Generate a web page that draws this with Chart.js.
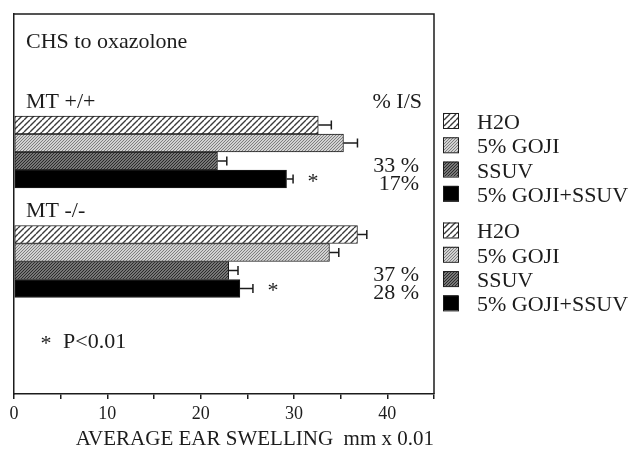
<!DOCTYPE html>
<html>
<head>
<meta charset="utf-8">
<title>CHS to oxazolone</title>
<script src="https://cdn.jsdelivr.net/npm/chart.js@4.4.1/dist/chart.umd.min.js"></script>
<style>
  html, body { margin: 0; padding: 0; background: #fff; }
  #wrap { width: 632px; height: 450px; }
</style>
</head>
<body>
<div id="wrap"><canvas id="chart" width="632" height="450"></canvas></div>
<script>
// Valori (umflarea urechii, mm x 0.01)
const groups = ['MT +/+', 'MT -/-'];
const treatments = ['H2O', '5% GOJI', 'SSUV', '5% GOJI+SSUV'];
const h2o = [32.6, 36.8];
const goji = [35.3, 33.8];
const ssuv = [21.8, 23.0];
const gojiSsuv = [29.2, 24.2];
const h2oErr = [1.4, 1.0];
const gojiErr = [1.5, 1.0];
const ssuvErr = [1.0, 1.0];
const gojiSsuvErr = [0.7, 1.4];
const starred = [false, false, false, true]; // * P<0.01
const inhibSsuv = ['33 %', '37 %'];   // % I/S pentru SSUV
const inhibCombo = ['17%', '28 %'];   // % I/S pentru 5% GOJI+SSUV
const xMax = 45;
const xStep = 5;
const xLabelEvery = 10;

const seriesValues = [h2o, goji, ssuv, gojiSsuv];
const seriesErrors = [h2oErr, gojiErr, ssuvErr, gojiSsuvErr];

const FONT = '"Liberation Serif", "DejaVu Serif", serif';
const INK = '#1c1c1c';

// Hasura diagonala (/) ca pattern pentru bare
function makeHatch(size, bg, fg, lw) {
  const c = document.createElement('canvas');
  c.width = size; c.height = size;
  const g = c.getContext('2d');
  g.fillStyle = bg;
  g.fillRect(0, 0, size, size);
  g.strokeStyle = fg;
  g.lineWidth = lw;
  g.beginPath();
  for (let k = -1; k <= 1; k++) {
    g.moveTo(k * size, size);
    g.lineTo(k * size + size, 0);
  }
  g.stroke();
  return g.createPattern(c, 'repeat');
}

const fills = [
  makeHatch(6, '#ffffff', '#3a3a3a', 1.4),
  makeHatch(3, '#d2d2d2', '#7e7e7e', 1),
  makeHatch(3, '#767676', '#2c2c2c', 1),
  '#000000'
];

// Rama completa a zonei de grafic (sus si dreapta)
const framePlugin = {
  id: 'frame',
  afterDraw(chart) {
    const { ctx, chartArea: a } = chart;
    ctx.save();
    ctx.strokeStyle = INK;
    ctx.lineWidth = 1.5;
    ctx.beginPath();
    ctx.moveTo(a.left, a.top);
    ctx.lineTo(a.right, a.top);
    ctx.lineTo(a.right, a.bottom);
    ctx.stroke();
    ctx.restore();
  }
};

// Bare de eroare (doar partea pozitiva)
const errorBarPlugin = {
  id: 'errorBars',
  afterDatasetsDraw(chart) {
    const { ctx } = chart;
    const xScale = chart.scales.x;
    ctx.save();
    ctx.strokeStyle = INK;
    ctx.lineWidth = 1.5;
    chart.data.datasets.forEach((ds, k) => {
      chart.getDatasetMeta(k).data.forEach((bar, i) => {
        const x0 = bar.x;
        const x1 = xScale.getPixelForValue(seriesValues[k][i] + seriesErrors[k][i]);
        ctx.beginPath();
        ctx.moveTo(x0, bar.y);
        ctx.lineTo(x1, bar.y);
        ctx.moveTo(x1, bar.y - 4.5);
        ctx.lineTo(x1, bar.y + 4.5);
        ctx.stroke();
      });
    });
    ctx.restore();
  }
};

// Texte, procente, asteriscuri si legenda
const notesPlugin = {
  id: 'notes',
  afterDraw(chart) {
    const { ctx, chartArea: a } = chart;
    const xScale = chart.scales.x;
    const yScale = chart.scales.y;
    ctx.save();
    ctx.fillStyle = INK;
    ctx.font = '22px ' + FONT;
    ctx.textBaseline = 'alphabetic';

    ctx.textAlign = 'left';
    ctx.fillText('CHS to oxazolone', a.left + 12, a.top + 34);

    groups.forEach((g, i) => {
      const cy = yScale.getPixelForValue(groups.length - i);
      ctx.textAlign = 'left';
      ctx.fillText(g, a.left + 12, cy - 44);
      if (i === 0) {
        ctx.textAlign = 'right';
        ctx.fillText('% I/S', a.right - 12, cy - 44);
      }
      const rowSsuv = chart.getDatasetMeta(2).data[i];
      const rowCombo = chart.getDatasetMeta(3).data[i];
      ctx.textAlign = 'right';
      ctx.fillText(inhibSsuv[i], a.right - 15, rowSsuv.y + 11);
      ctx.fillText(inhibCombo[i], a.right - 15, rowCombo.y + 11);

      starred.forEach((s, k) => {
        if (!s) return;
        const bar = chart.getDatasetMeta(k).data[i];
        const xe = xScale.getPixelForValue(seriesValues[k][i] + seriesErrors[k][i]);
        ctx.textAlign = 'center';
        ctx.fillText('*', xe + 20, bar.y + 9);
      });

      // legenda pentru grup
      treatments.forEach((t, k) => {
        const base = cy - 23 + k * 24.3;
        const bx = a.right + 9;
        ctx.fillStyle = fills[k];
        ctx.fillRect(bx, base - 16, 15, 15);
        ctx.strokeStyle = INK;
        ctx.lineWidth = 1;
        ctx.strokeRect(bx + 0.5, base - 15.5, 15, 15);
        ctx.fillStyle = INK;
        ctx.textAlign = 'left';
        ctx.fillText(t, bx + 34, base);
      });
    });

    ctx.textAlign = 'center';
    ctx.fillText('*', a.left + 32, a.bottom - 44);
    ctx.textAlign = 'left';
    ctx.fillText('P<0.01', a.left + 49, a.bottom - 46);
    ctx.restore();
  }
};

const chart = new Chart(document.getElementById('chart'), {
  type: 'bar',
  data: {
    datasets: treatments.map((t, k) => ({
      label: t,
      data: seriesValues[k].map((v, i) => ({ x: v, y: groups.length - i })),
      backgroundColor: fills[k],
      borderColor: INK,
      borderWidth: 1,
      borderSkipped: false,
      barThickness: 18
    }))
  },
  options: {
    responsive: false,
    animation: false,
    indexAxis: 'y',
    layout: { padding: { left: 14, top: 14, right: 198, bottom: 0 } },
    plugins: {
      legend: { display: false },
      tooltip: { enabled: false }
    },
    scales: {
      x: {
        type: 'linear',
        min: 0,
        max: xMax,
        ticks: {
          stepSize: xStep,
          autoSkip: false,
          maxRotation: 0,
          padding: 6,
          color: INK,
          font: { family: FONT, size: 18, lineHeight: 1 },
          callback: v => (v % xLabelEvery === 0 ? v : '')
        },
        grid: { drawOnChartArea: false, drawTicks: true, tickLength: 5, color: INK, lineWidth: 1.5 },
        border: { color: INK, width: 1.5 },
        title: {
          display: true,
          text: 'AVERAGE EAR SWELLING  mm x 0.01',
          align: 'end',
          color: INK,
          font: { family: FONT, size: 21, lineHeight: 1 },
          padding: { top: 0, bottom: 0 }
        }
      },
      y: {
        type: 'linear',
        offset: false,
        min: -0.21,
        max: 3.26,
        ticks: { display: false },
        grid: { display: false, drawTicks: false },
        border: { color: INK, width: 1.5 }
      }
    }
  },
  plugins: [framePlugin, errorBarPlugin, notesPlugin]
});
</script>
</body>
</html>
